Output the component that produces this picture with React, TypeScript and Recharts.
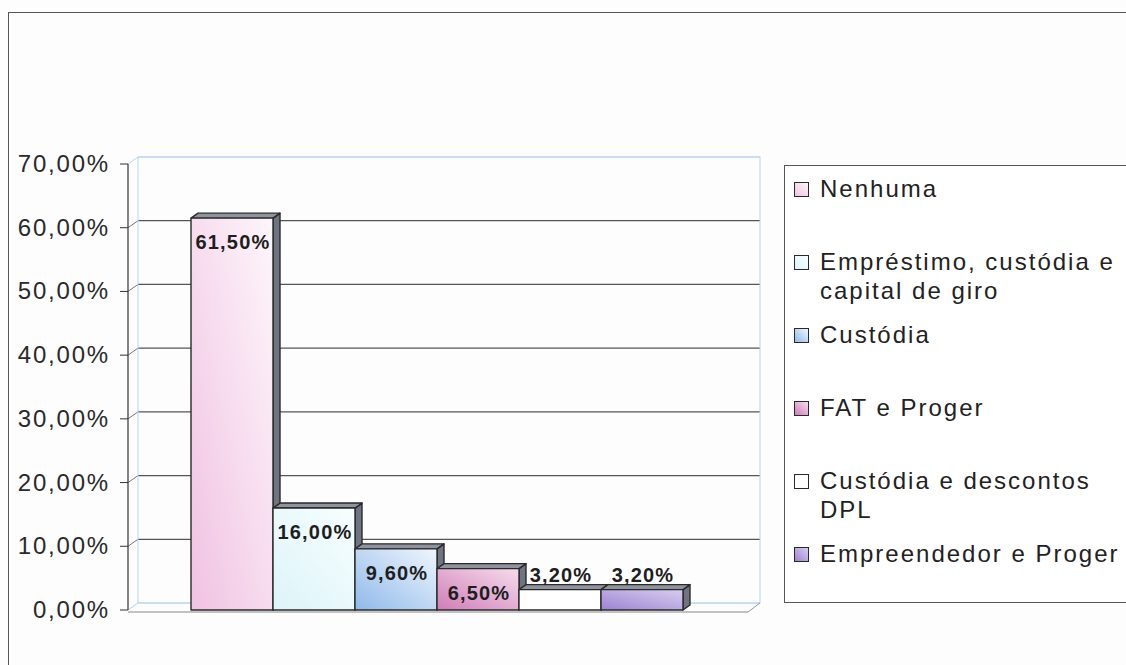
import { BarChart, Bar, XAxis, YAxis, CartesianGrid, usePlotArea } from 'recharts';

const CATEGORIES = ['Linhas de crédito'];
const SERIES = [
  'Nenhuma',
  'Empréstimo, custódia e capital de giro',
  'Custódia',
  'FAT e Proger',
  'Custódia e descontos DPL',
  'Empreendedor e Proger',
];
const VALUES = [61.5, 16.0, 9.6, 6.5, 3.2, 3.2];
const Y_TICKS = [0, 10, 20, 30, 40, 50, 60, 70];

// gradient stops per series: [dark, light]
const COLORS = [
  ['#f0c2e2', '#fef6fb'],
  ['#dcf4f8', '#f8feff'],
  ['#8fb9ea', '#f0f6fd'],
  ['#cf7db8', '#f6dcec'],
  ['#ffffff', '#ffffff'],
  ['#9c84d2', '#d8cdf0'],
];

const data = CATEGORIES.map((name) => {
  const row: Record<string, string | number> = { name };
  SERIES.forEach((_s, i) => { row[`s${i}`] = VALUES[i]; });
  return row;
});

const FONT = '"Liberation Sans", Arial, sans-serif';
const pct = (v: number) => `${v.toFixed(2).replace('.', ',')}%`;

const DX = 7;
const DY = 5;

const Bar3D = (props: any) => {
  const { x, y, width, height, fill } = props;
  if (width == null || height == null) return null;
  return (
    <g stroke="#2a2a2a" strokeWidth={1.4} strokeLinejoin="round">
      <polygon points={`${x + width},${y} ${x + width + DX},${y - DY} ${x + width + DX},${y + height - DY} ${x + width},${y + height}`} fill="#6f7482" />
      <polygon points={`${x},${y} ${x + DX},${y - DY} ${x + width + DX},${y - DY} ${x + width},${y}`} fill="#8f939e" />
      <rect x={x} y={y} width={width} height={height} fill={fill} />
    </g>
  );
};

const renderLabel = (props: any) => {
  const { x, y, width, height, value } = props;
  const inside = height > 40;
  return (
    <text x={x + width / 2 + 1} y={inside ? y + 31 : y - 8} textAnchor="middle"
      fontFamily={FONT} fontSize={20} fontWeight="bold" letterSpacing={1.2} fill="#1e1e1e">
      {pct(value)}
    </text>
  );
};

const YTick = (props: any) => {
  const { x, y, payload } = props;
  return (
    <text x={x} y={y} dy={8} textAnchor="end" fontFamily={FONT} fontSize={24} letterSpacing={1.8} fill="#2a2a2a">
      {pct(payload.value)}
    </text>
  );
};

const GridLine = (props: any) => {
  const { x1, y1, x2, index } = props;
  const edge = index === 0 || index === Y_TICKS.length - 1;
  const color = edge ? '#b9d3ee' : '#555';
  return (
    <g key={`g-${index}`}>
      <line x1={x1} y1={y1} x2={x1 + 10} y2={y1 - 7} stroke={edge ? '#b9d3ee' : '#777'} strokeWidth={1} />
      <line x1={x1 + 10} y1={y1 - 7} x2={x2 + 12} y2={y1 - 7} stroke={color} strokeWidth={edge ? 1 : 1.2} />
    </g>
  );
};

const Walls = () => {
  const area = usePlotArea();
  if (!area) return null;
  const { x, y, width, height } = area;
  const b = y + height;
  return (
    <g>
      <rect x={x + 10} y={y - 7} width={width + 2} height={height} fill="none" stroke="#b9d3ee" strokeWidth={1} />
      <line x1={x + width + 12} y1={b - 7} x2={x + width} y2={b + 2} stroke="#999" strokeWidth={1} />
      <line x1={x} y1={b + 2} x2={x + width} y2={b + 2} stroke="#888" strokeWidth={1.2} />
    </g>
  );
};

const Legend3D = () => (
  <div style={{
    position: 'absolute', left: 784, top: 165, width: 420, height: 438,
    border: '1px solid #555', background: '#fff', boxSizing: 'border-box', paddingTop: 8,
  }}>
    {SERIES.map((name, i) => (
      <div key={name} style={{ height: 73, position: 'relative' }}>
        <div style={{
          position: 'absolute', left: 9, top: 8, width: 13, height: 13,
          border: '1.5px solid #2a2a2a',
          background: `linear-gradient(45deg, ${COLORS[i][0]}, ${COLORS[i][1]})`,
        }} />
        <div style={{
          position: 'absolute', left: 35, top: 0, width: 330,
          fontFamily: FONT, fontSize: 24, letterSpacing: 2.0, lineHeight: '29px', color: '#222',
        }}>{name}</div>
      </div>
    ))}
  </div>
);

export default function App() {
  return (
    <div style={{ position: 'absolute', left: 0, top: 0, width: 1126, height: 665, overflow: 'hidden', background: '#fdfdfd' }}>
      <div style={{ position: 'absolute', left: 8, top: 12, width: 1200, height: 700, border: '1px solid #555', boxSizing: 'border-box' }} />
      <div style={{ position: 'absolute', left: 0, top: 0 }}>
        <BarChart width={1126} height={665} data={data}
          margin={{ top: 164, right: 378, bottom: 55, left: 8 }}
          barGap={0} barCategoryGap={63}>
          <defs>
            {COLORS.map((c, i) => (
              <linearGradient key={i} id={`g${i}`} x1="0" y1="1" x2="1" y2="0">
                <stop offset="0%" stopColor={c[0]} />
                <stop offset="100%" stopColor={c[1]} />
              </linearGradient>
            ))}
          </defs>
          <Walls />
          <CartesianGrid vertical={false} horizontal={GridLine} />
          <XAxis dataKey="name" tick={false} tickLine={false} axisLine={false} height={0} />
          <YAxis width={120} domain={[0, 70]} ticks={Y_TICKS} interval={0}
            tick={YTick} tickSize={8} tickMargin={10}
            tickLine={{ stroke: '#333' }} axisLine={{ stroke: '#333', strokeWidth: 1.2 }} />
          {SERIES.map((name, i) => (
            <Bar key={name} dataKey={`s${i}`} name={name} fill={`url(#g${i})`}
              shape={Bar3D} label={renderLabel} isAnimationActive={false} />
          ))}
        </BarChart>
      </div>
      <Legend3D />
    </div>
  );
}
